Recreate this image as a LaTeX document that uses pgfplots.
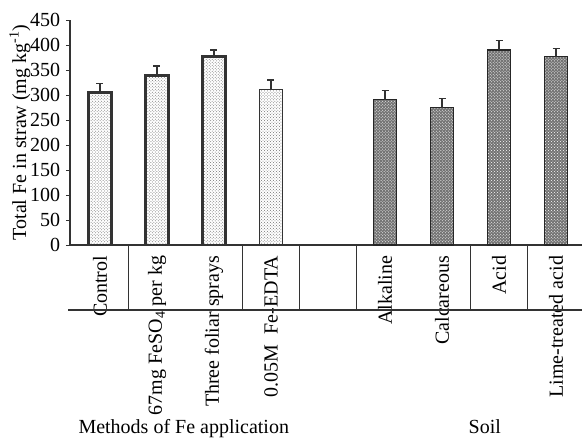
\documentclass[border=0pt]{standalone}
\usepackage{fontspec}
\setmainfont{Liberation Serif}
\usepackage{pgfplots}
\pgfplotsset{compat=1.18}
\usetikzlibrary{patterns}
\begin{document}
\fontsize{20bp}{24bp}\selectfont
\begin{tikzpicture}
\begin{axis}[
  at={(0,0)}, anchor=south west,
  scale only axis, width=512bp, height=225bp,
  xmin=-0.526, xmax=8.456, ymin=0, ymax=450,
  clip=false,
  axis y line*=left, axis x line*=bottom,
  axis line style={line width=1.2bp, black!80},
  ytick={0,50,...,450},
  tick align=outside, major tick length=4bp,
  ytick style={line width=1bp, black!80},
  xtick={0,1,2,3,5,6,7,8},
  xticklabels={Control, 67mg FeSO\textsubscript{4} per kg, Three foliar sprays, 0.05M\ \ Fe-EDTA, Alkaline, Calcareous, Acid, Lime-treated acid},
  xtick style={draw=none},
  xticklabel style={rotate=90, anchor=east},
  tick label style={font=\fontsize{20bp}{24bp}\selectfont},
  /pgf/number format/assume math mode=true,
  yticklabel style={xshift=1bp},
  ylabel={Total Fe in straw (mg kg\textsuperscript{-1})},
  ylabel style={font=\fontsize{20bp}{24bp}\selectfont},
  every axis y label/.style={at={(axis description cs:-0.0977,0.5)}, rotate=90, anchor=center},
]
% Methods (thick outline)
\addplot[ybar, bar width=23bp, bar shift=0pt, draw=black!80, line width=2.6bp,
  fill=white, postaction={pattern=crosshatch dots, pattern color=black!55},
  error bars/.cd, y dir=plus, y explicit,
  error bar style={line width=2bp, black!80},
  error mark options={rotate=90, mark size=3.5bp, line width=1.2bp, black!80}]
  coordinates {(0,305) +- (0,18) (1,339) +- (0,19) (2,377) +- (0,13)};
% 0.05M Fe-EDTA (thin outline)
\addplot[ybar, bar width=23bp, bar shift=0pt, draw=black!80, line width=1.2bp,
  fill=white, postaction={pattern=crosshatch dots, pattern color=black!55},
  error bars/.cd, y dir=plus, y explicit,
  error bar style={line width=1.5bp, black!80},
  error mark options={rotate=90, mark size=3.5bp, line width=1.2bp, black!80}]
  coordinates {(3,311) +- (0,19)};
% Soil
\addplot[ybar, bar width=23bp, bar shift=0pt, draw=black!85, line width=1.5bp,
  fill=black!55, postaction={pattern=crosshatch dots, pattern color=white},
  error bars/.cd, y dir=plus, y explicit,
  error bar style={line width=2bp, black!80},
  error mark options={rotate=90, mark size=3.5bp, line width=1.2bp, black!80}]
  coordinates {(5,291) +- (0,18) (6,275) +- (0,18) (7,390) +- (0,19) (8,377) +- (0,16)};
% table lines
\draw[line width=1.2bp, black!80] (axis cs:-0.56,-130) -- (axis cs:8.456,-130);
\draw[line width=1.2bp, black!80] (axis cs:0.5,0) -- (axis cs:0.5,-130);
\draw[line width=1.2bp, black!80] (axis cs:2.5,0) -- (axis cs:2.5,-130);
\draw[line width=1.2bp, black!80] (axis cs:3.5,0) -- (axis cs:3.5,-130);
\draw[line width=1.2bp, black!80] (axis cs:4.5,0) -- (axis cs:4.5,-130);
\draw[line width=1.2bp, black!80] (axis cs:6.5,0) -- (axis cs:6.5,-130);
\draw[line width=1.2bp, black!80] (axis cs:7.5,0) -- (axis cs:7.5,-130);
\node[anchor=base] at (axis cs:1.47,-378) {Methods of Fe application};
\node[anchor=base] at (axis cs:6.75,-378) {Soil};
\end{axis}
\pgfresetboundingbox
\useasboundingbox (-70bp,-194bp) rectangle (512bp,245bp);
\end{tikzpicture}
\end{document}
